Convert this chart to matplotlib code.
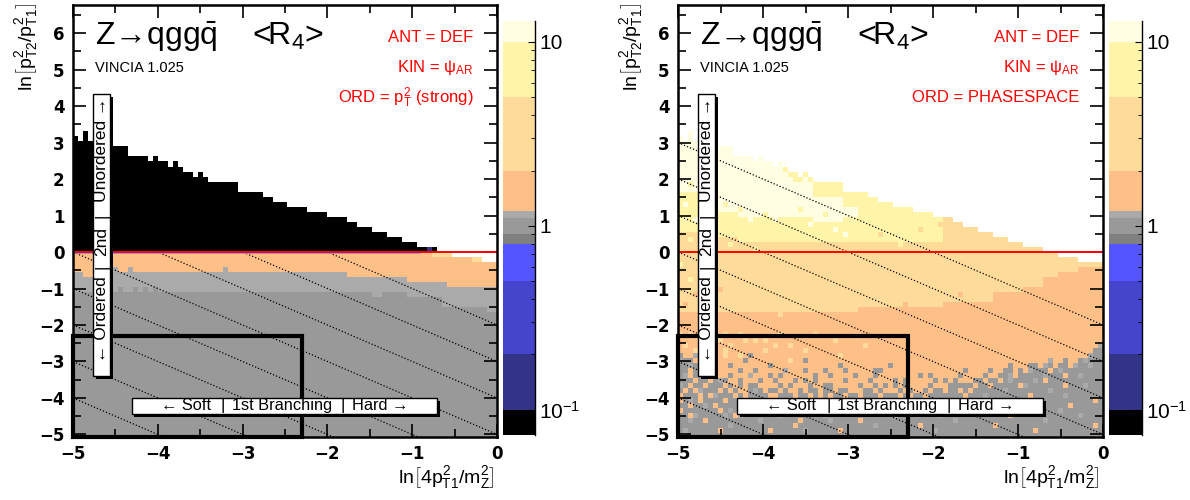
import numpy as np
import matplotlib
matplotlib.use("Agg")
import matplotlib.pyplot as plt
from matplotlib.colors import ListedColormap, BoundaryNorm
from matplotlib.patches import Rectangle
from matplotlib.ticker import MultipleLocator, FixedLocator, NullFormatter

plt.rcParams['font.family'] = ['Liberation Sans', 'DejaVu Sans']
plt.rcParams['mathtext.fontset'] = 'custom'
plt.rcParams['mathtext.rm'] = 'Liberation Sans'
plt.rcParams['mathtext.it'] = 'Liberation Sans'
plt.rcParams['mathtext.sf'] = 'Liberation Sans'
plt.rcParams['mathtext.bf'] = 'Liberation Sans:bold'

# -------------------------
# COLOUR LEVELS (<R4>)
# -------------------------
levels = [0.073, 0.1, 0.2, 0.5, 0.8, 0.9, 1.1, 1.2, 2, 5, 10, 13]
level_colors = ['#000000', '#333388', '#4444cc', '#5555ff', '#808080', '#999999',
                '#aaaaaa', '#ffc088', '#ffdb99', '#fff4a8', '#fffde2']
# one value inside each band, by letter
codes = {'k': 0.085, 'n': 0.15, 'b': 0.3, 'B': 0.6, 'd': 0.85, 'g': 1.0,
         'h': 1.15, 'o': 1.5, 'l': 3.0, 'y': 7.0, 'w': 11.0}

# -------------------------
# BINNING
# -------------------------
nx = 85
n_below = 37          # rows under y = 0
ny = 86
dy = 5.1 / n_below
x_edges = np.linspace(-5, 0, nx + 1)
y_edges = -5.1 + dy * np.arange(ny + 1)

# phase-space edge: rows filled above y=0 (negative = empty rows below 0)
top = [23, 22, 24, 22, 22, 22, 21, 21, 21, 21, 21, 19, 19, 19, 19, 18, 19, 18, 18, 17,
       18, 17, 16, 16, 15, 16, 15, 14, 14, 14, 14, 14, 14, 12, 12, 12, 12, 12, 11, 11,
       10, 10, 10, 9, 9, 9, 9, 8, 8, 8, 8, 7, 7, 7, 7, 6, 6, 5, 5, 5,
       4, 4, 4, 3, 3, 3, 2, 2, 2, 1, 1, 1, 1, 0, 0, 0, -1, -1, -1, -1,
       -2, -2, -2, -2, -2]

# ---- left: ORD = pT2 (strong) ----
ord_orange = [4, 4, 5, 5, 4, 4, 4, 4, 3, 4, 4, 3, 4, 4, 4, 4, 4, 4, 4, 4,
              4, 4, 4, 4, 4, 4, 4, 4, 4, 4, 3, 4, 4, 4, 4, 4, 4, 4, 4, 4,
              4, 4, 4, 4, 4, 4, 4, 4, 4, 4, 4, 4, 4, 4, 4, 5, 5, 5, 5, 5,
              5, 5, 5, 5, 5, 5, 5, 6, 6, 6, 6, 6, 6, 6, 6, 7, 7, 7, 7, 7,
              7, 7, 7, 7, 7]
ord_lgray = [8, 8, 8, 8, 8, 8, 8, 8, 8, 7, 8, 8, 7, 8, 7, 8, 7, 8, 8, 8,
             8, 8, 8, 8, 8, 8, 8, 8, 8, 8, 8, 8, 8, 8, 8, 8, 8, 8, 8, 8,
             8, 8, 8, 8, 8, 8, 8, 8, 8, 8, 8, 8, 8, 8, 8, 8, 8, 8, 8, 8,
             9, 9, 8, 8, 8, 8, 8, 9, 9, 9, 9, 9, 9, 9, 11, 11, 11, 11, 11, 11,
             11, 11, 11, 12, 12]
ord_specks = [(71, 0, 'n'), (72, -1, 'l'), (73, -1, 'l'), (74, -1, 'l'), (75, -1, 'l'),
              (80, -2, 'l'), (81, -2, 'l')]

# ---- right: ORD = PHASESPACE ----
ps_whi = [23, 22, 24, 22, 22, 22, 21, 21, 21, 21, 21, 19, 19, 19, 19, 18, 19, 18, 18, 17,
          18, 16, 15, 15, 14, 15, 14, 11, 11, 11, 11, 11, 11, 9, 9, 9, 0, 0, 0, 0,
          0, 0, 0, 0, 0, 0, 0, 0, 0, 0, 0, 0, 0, 0, 0, 0, 0, 0, 0, 0,
          0, 0, 0, 0, 0, 0, 0, 0, 0, 0, 0, 0, 0, 0, 0, 0, 0, 0, 0, 0,
          0, 0, 0, 0, 0]
ps_wlo = [12, 12, 12, 12, 10, 10, 10, 10, 8, 8, 8, 8, 7, 7, 7, 7, 7, 7, 7, 7,
          7, 7, 7, 7, 7, 7, 7, 6, 6, 6, 6, 6, 6, 7, 7, 7, 0, 0, 0, 0,
          0, 0, 0, 0, 0, 0, 0, 0, 0, 0, 0, 0, 0, 0, 0, 0, 0, 0, 0, 0,
          0, 0, 0, 0, 0, 0, 0, 0, 0, 0, 0, 0, 0, 0, 0, 0, 0, 0, 0, 0,
          0, 0, 0, 0, 0]
ps_ylo = [4, 4, 4, 4, 3, 3, 3, 3, 3, 3, 3, 3, 2, 2, 2, 2, 2, 2, 2, 2,
          2, 2, 2, 2, 2, 2, 2, 2, 2, 2, 2, 2, 2, 2, 2, 2, 2, 2, 2, 2,
          2, 2, 2, 2, 2, 2, 2, 2, 2, 2, 2, 2, 2, 30, 30, 30, 30, 30, 30, 30,
          30, 30, 30, 30, 30, 30, 30, 30, 30, 30, 30, 30, 30, 30, 30, 30, 30, 30, 30, 30,
          30, 30, 30, 30, 30]
ps_llo = [-12, -12, -12, -12, -12, -12, -12, -12, -12, -12, -12, -12, -12, -12, -12, -12, -12, -12, -12, -12,
          -12, -12, -12, -12, -12, -12, -12, -12, -12, -12, -12, -12, -12, -12, -12, -12, -11, -11, -11, -11,
          -11, -11, -11, -11, -11, -11, -11, -11, -11, -11, -11, -11, -11, -10, -10, -10, -10, -10, -10, -10,
          -10, -10, -10, -8, -8, -8, -8, -8, -8, -7, -7, -7, -7, -5, -5, -5, -4, -4, -4, -4,
          -3, -3, -3, -3, -3]
ps_specks = [(0, 11, 'y'), (1, 9, 'w'), (2, 13, 'y'), (3, 6, 'w'), (0, 3, 'l'), (2, 2, 'y'),
             (1, 1, 'l'), (9, 9, 'y'), (12, 8, 'y'), (14, 6, 'w'), (17, 7, 'y'), (19, 6, 'w'),
             (23, 14, 'y'), (24, 8, 'y'), (25, 15, 'y'), (26, 5, 'w'), (29, 7, 'y'), (31, 4, 'w'),
             (33, 3, 'w'), (10, 1, 'y'), (15, 0, 'y'), (20, 1, 'l'), (34, 10, 'y'), (40, 3, 'l'),
             (44, 1, 'y'), (48, 4, 'l'), (52, 5, 'l'), (51, 3, 'y'),
             (0, -3, 'y'), (2, -6, 'y'), (8, -8, 'o'), (1, -11, 'o'), (5, -13, 'l'),
             (12, -12, 'l'), (20, -13, 'l'), (3, -9, 'o'), (30, -12, 'l'), (45, -11, 'o'),
             (56, -9, 'o'), (60, -10, 'l')]
# bottom rows of the phase-space plot (top row first, y < -2.2)
ps_bottom = [
    "lolol ooool ooloo ooooo loooo ooloo ooooo ooooo ooooo ooooo ooooo ooooo ooooo ooooo ooooo ooooo ooooo",
    "ooooo lollo ooolo loloo ooooo ooooo olooo ooooo ooooo ooooo ooooo ooooo ooooo ooooo ooooo ooooo ooooo",
    "oloog ooooo loooo ooool ooloo ooooo ooooo ooloo ooooo ooooo ooooo ooooo ooooo ooooo ooooo ooooo ooooh",
    "ooolo oolol ooooo ooloo ooooo loooo ooooo ooooo ooooo ooooo ooooo ooooo ooooo ooooo ooooo ooooo ooogg",
    "gooho ooool oolog ooooo ooooo ooooo ooloo ooooo ooooo ooooo ooooo ooooo ooooo ooooo ooooo ooooo oohgg",
    "hggoo gogoo ooogo ooooo ooloo goooo ooooo ooooo ooooo ooooo ooooo ooooo ooooo ooooo ooooh oogoo ghggg",
    "gghgo goooo goooo ooogo ooooo ooooo oogoo ooooo oogoo ooooo ooooo ooooo ooooo ogooo ggohg oggoh gghgg",
    "ggogg hggoo oogoo goooo ohooo gooog ooogo oooog goooo ooooo ooooo oogoo oogoo ggogo hgggo ghggg ggggg",
    "ghogg gogoo goooh ooogo goooo oogoo goooo gooog ooooo ooogo goooo ogooo ogoog ghogg ggghg ggogg hgggg",
    "gggog goghg oogoo ogoog ooogo gogoo ooogo ooogo ooogo goooo ogogo gooog goggo ghggg ghgog ggggg ggggg",
    "hgogg ogggo gogog goooo gogoo ogoog goooo ogoog ogogo goooo gooog ggggo ggogg gggoh ggggg ggogg ghggg",
    "gogoh gggog ogoog hgogg ogoog oggog goggo ooggo gooog ogoog oggog gogog ggggg hgggg ggggh ggggg ggggg",
    "ogggo gohgg gogog gggoo gggog gogog oggog goggg ogggo goggo ggggg ggogg ghggg ggggg ogggg gghgg ggggg",
    "oghgo ggggo gggog ogggg goggg ggoog gggog gggog ggggo ggggg ggogg ggggg ggggg hgggg ggggg ggggg gggog",
    "ggogg hgogg ggggg gggog ggggo gggog ggggg ogggg ggggg gggog ggggg ggggg ghggg ggggg hgggg gggog ggggg",
    "ogggg gggog hgggh ggggg gggog ggggg ggogg gghog ggggg ogggg ggggg gggog ggggg hgggg ggggg ghggg ggggg",
    "ggohg ggggh gohgg ggggg hgggg ggggh ggggg ggggg ggghg ggggg gghgg ggggg ggggg goggg ggggg ggggg hgggg",
    "gghgg ogggg ggggg ghggg ggggo ggggg hgggg goggg ggggg ggggg ggggg hgggg ggggg ggggg ggghg ggggg ggggg",
    "ggggg ggggg hgggg ggggg gggog ggggg ggggg ggggh ggggg gggog ggggg ggggg gggog ggggg ggggg ggggg gggog",
    "ghggg gggog ggggg gggog ggggg hgggg ggogg ggggg ggggg ggggg ghggg ggggg ggggg ggggg goggg ggggg ggggg",
    "ggggg ggggg ggggg ggggg ggggg ggggg ggggg ggggg ggggg ggggg ggggg ggggg ggggg ggggg ggggg ggggg ggggg",
]

diag_c = [-2, -3, -4, -5, -6, -7, -8, -9]
box_corner = -2.3

# -------------------------
# BUILD GRIDS
# -------------------------
grid_ord = np.full((ny, nx), np.nan)
grid_ps = np.full((ny, nx), np.nan)
bottom_rows = [r.replace(' ', '').ljust(nx, 'g')[:nx] for r in ps_bottom][::-1]

for j in range(nx):
    for r in range(-n_below, top[j]):
        i = n_below + r
        if r >= 0:
            c = 'k'
        elif r >= -ord_orange[j]:
            c = 'o'
        elif r >= -ord_lgray[j]:
            c = 'h'
        else:
            c = 'g'
        grid_ord[i, j] = codes[c]

        if i < len(bottom_rows):
            c = bottom_rows[i][j]
        elif ps_wlo[j] <= r < ps_whi[j]:
            c = 'w'
        elif r >= ps_ylo[j]:
            c = 'y'
        elif r >= ps_llo[j]:
            c = 'l'
        else:
            c = 'o'
        grid_ps[i, j] = codes[c]

for j, r, c in ord_specks:
    grid_ord[n_below + r, j] = codes[c]
for j, r, c in ps_specks:
    grid_ps[n_below + r, j] = codes[c]

cmap = ListedColormap(level_colors)
norm = BoundaryNorm(levels, cmap.N)

# -------------------------
# FIGURE
# -------------------------
fig = plt.figure(figsize=(11.9, 5.0), dpi=100)
ax1 = fig.add_axes([73 / 1190, 63 / 500, 424 / 1190, 432 / 500])
ax2 = fig.add_axes([678 / 1190, 63 / 500, 425 / 1190, 432 / 500])
cax1 = fig.add_axes([503 / 1190, 65 / 500, 32 / 1190, 414 / 500])
cax2 = fig.add_axes([1109 / 1190, 65 / 500, 33 / 1190, 414 / 500])


def draw_panel(ax, grid, ord_text, blue_strip):
    ax.pcolormesh(x_edges, y_edges, np.ma.masked_invalid(grid), cmap=cmap, norm=norm,
                  zorder=1)
    for c in diag_c:
        ax.axline((0, c), slope=-1, color='black', lw=0.9, ls=(0, (1, 1.6)), zorder=2)
    if blue_strip:
        ax.hlines(-0.04, -5, -0.9, color='#8c8cf0', lw=1.3, zorder=3)
    ax.axhline(0, color='#ff0000', lw=1.4, zorder=3)

    ax.set_xlim(-5, 0)
    ax.set_ylim(-5.07, 6.77)

    # first-branching box
    ax.add_patch(Rectangle((-5.0, -5.07), 5.0 + box_corner, box_corner + 5.07, fill=False,
                           lw=3, edgecolor='black', zorder=6, clip_on=False))

    # vertical label box
    ax.add_patch(Rectangle((-4.725, -3.47), 0.196, 7.72, facecolor='black', zorder=7))
    ax.add_patch(Rectangle((-4.76, -3.39), 0.196, 7.72, facecolor='white',
                           edgecolor='black', lw=1, zorder=8))
    xc = -4.662
    for y, s in [(-1.84, '← Ordered'), (-0.4, '|'), (0.3, '2nd'), (1.0, '|'),
                 (2.8, 'Unordered →')]:
        ax.text(xc, y, s, rotation=90, ha='center', va='center', fontsize=12.5,
                zorder=9)

    # horizontal label box
    ax.add_patch(Rectangle((-4.275, -4.52), 3.6, 0.44, facecolor='black', zorder=7))
    ax.add_patch(Rectangle((-4.31, -4.44), 3.6, 0.44, facecolor='white',
                           edgecolor='black', lw=1, zorder=8))
    for x, s in [(-3.67, '← Soft'), (-3.23, '|'), (-2.54, '1st Branching'),
                 (-1.82, '|'), (-1.38, 'Hard →')]:
        ax.text(x, -4.22, s, ha='center', va='center', fontsize=11.8, zorder=9)

    # titles
    ax.text(-4.74, 5.67, r'Z→qgg$\bar{\mathrm{q}}$', fontsize=23, va='baseline')
    ax.text(-2.89, 5.67, r'<R$_4$>', fontsize=23, va='baseline')
    ax.text(-4.74, 4.93, 'VINCIA 1.025', fontsize=10.5, va='baseline')
    ax.text(-0.28, 5.75, 'ANT = DEF', color='#ff0000', ha='right', fontsize=12,
            va='baseline')
    ax.text(-0.28, 4.93, r'KIN = $\psi_{\mathrm{AR}}$', color='#ff0000', ha='right',
            fontsize=12, va='baseline')
    ax.text(-0.28, 4.1, ord_text, color='#ff0000', ha='right', fontsize=12,
            va='baseline')

    ax.xaxis.set_major_locator(MultipleLocator(1))
    ax.xaxis.set_minor_locator(MultipleLocator(0.5))
    ax.yaxis.set_major_locator(MultipleLocator(1))
    ax.yaxis.set_minor_locator(MultipleLocator(0.5))
    ax.tick_params(which='both', direction='in', top=True, right=True, width=1.2)
    ax.tick_params(which='major', length=9.5, labelsize=12, pad=6)
    ax.tick_params(which='minor', length=5.5)
    for lbl in ax.get_xticklabels() + ax.get_yticklabels():
        lbl.set_fontweight('bold')
        lbl.set_family('DejaVu Sans')
    for sp in ax.spines.values():
        sp.set_linewidth(1.8)
        sp.set_zorder(10)


def draw_cbar(cax):
    mids = np.sqrt(np.array(levels[:-1]) * np.array(levels[1:]))
    cax.pcolormesh([0, 1], levels, mids.reshape(-1, 1), cmap=cmap, norm=norm)
    cax.set_yscale('log')
    cax.set_ylim(levels[0], levels[-1])
    cax.set_xlim(0, 1)
    cax.set_xticks([])
    for side in ['left', 'top', 'bottom']:
        cax.spines[side].set_visible(False)
    cax.spines['right'].set_linewidth(1)
    cax.yaxis.set_major_locator(FixedLocator([0.1, 1, 10]))
    cax.yaxis.set_minor_locator(FixedLocator([0.2, 0.3, 0.4, 0.5, 0.6, 0.7, 0.8, 0.9,
                                              2, 3, 4, 5, 6, 7, 8, 9]))
    cax.yaxis.set_minor_formatter(NullFormatter())
    cax.set_yticklabels([r'$10^{-1}$', '1', '10'])
    cax.tick_params(axis='y', which='both', direction='in', left=False, right=True,
                    labelleft=False, labelright=True, labelsize=15, pad=3)
    cax.tick_params(axis='y', which='major', length=5)
    cax.tick_params(axis='y', which='minor', length=3)


draw_panel(ax1, grid_ord, r'ORD = $p^{2}_{\mathrm{T}}$ (strong)', True)
draw_panel(ax2, grid_ps, 'ORD = PHASESPACE', False)
draw_cbar(cax1)
draw_cbar(cax2)

ylab = r'$\mathrm{ln}\left[p^{2}_{\mathrm{T2}}/p^{2}_{\mathrm{T1}}\right]$'
xlab = r'$\mathrm{ln}\left[4p^{2}_{\mathrm{T1}}/m^{2}_{\mathrm{Z}}\right]$'
for x0, x1 in [(27, 495), (632, 1100)]:
    fig.text(x0 / 1190, 1 - 3 / 500, ylab, rotation=90, ha='center', va='top', fontsize=14)
    fig.text(x1 / 1190, 1 - 478 / 500, xlab, ha='right', va='center', fontsize=14)

fig.savefig('out.png', dpi=100)
